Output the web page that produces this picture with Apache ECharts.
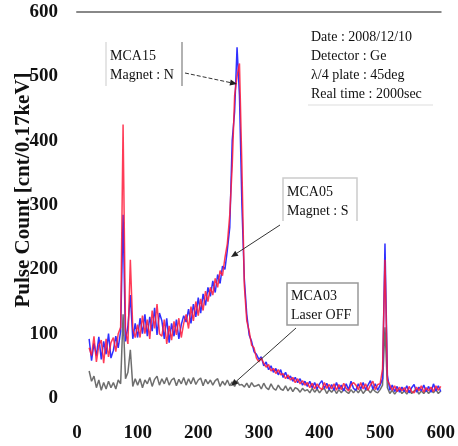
<!DOCTYPE html>
<html>
<head>
<meta charset="utf-8">
<script src="https://cdn.jsdelivr.net/npm/echarts@6/dist/echarts.min.js"></script>
<style>
html, body { margin: 0; padding: 0; background: #fff; }
#chart { width: 458px; height: 446px; }
</style>
</head>
<body>
<div id="chart"></div>
<script>
// energy channel (keV)
var energy = [
	20, 24, 28, 32, 36, 40, 44, 48, 52, 56,
	60, 64, 68, 72, 76, 80, 84, 88, 92, 96,
	100, 104, 108, 112, 116, 120, 124, 128, 132, 136,
	140, 144, 148, 152, 156, 160, 164, 168, 172, 176,
	180, 184, 188, 192, 196, 200, 204, 208, 212, 216,
	220, 224, 228, 232, 236, 240, 244, 248, 252, 256,
	260, 264, 268, 272, 276, 280, 284, 288, 292, 296,
	300, 304, 308, 312, 316, 320, 324, 328, 332, 336,
	340, 344, 348, 352, 356, 360, 364, 368, 372, 376,
	380, 384, 388, 392, 396, 400, 404, 408, 412, 416,
	420, 424, 428, 432, 436, 440, 444, 448, 452, 456,
	460, 464, 468, 472, 476, 480, 484, 488, 492, 496,
	500, 504, 508, 512, 516, 520, 524, 528, 532, 536,
	540, 544, 548, 552, 556, 560, 564, 568, 572, 576,
	580, 584, 588, 592, 596, 600
]

// MCA05 Magnet : S (blue)
var mca05 = [
	92, 58, 85, 66, 95, 60, 88, 68, 100, 62,
	74, 96, 78, 104, 285, 88, 112, 160, 92, 116,
	94, 124, 100, 130, 96, 126, 104, 140, 98, 132,
	120, 92, 124, 86, 116, 96, 122, 92, 114, 128,
	118, 138, 116, 146, 126, 156, 132, 162, 144, 172,
	158, 182, 164, 192, 178, 205, 200, 230, 265, 400,
	445, 545, 470, 300, 185, 130, 98, 88, 72, 68,
	60, 64, 50, 56, 44, 50, 40, 46, 36, 44,
	32, 40, 30, 34, 26, 32, 24, 30, 20, 26,
	18, 26, 16, 24, 14, 22, 27, 15, 23, 13,
	21, 12, 24, 14, 20, 11, 22, 13, 26, 15,
	12, 22, 14, 24, 13, 20, 27, 14, 22, 12,
	20, 30, 240, 35, 12, 20, 10, 18, 9, 17,
	10, 19, 8, 16, 21, 9, 17, 11, 20, 10,
	18, 9, 22, 11, 19, 10
]

// MCA15 Magnet : N (red)
var mca15 = [
	78, 66, 96, 56, 82, 90, 54, 92, 64, 86,
	94, 72, 100, 110, 425, 104, 84, 215, 108, 94,
	114, 94, 128, 100, 122, 92, 136, 108, 146, 100,
	96, 122, 84, 112, 90, 119, 98, 124, 94, 116,
	130, 108, 142, 120, 150, 128, 154, 136, 166, 150,
	172, 160, 186, 172, 198, 190, 218, 240, 285, 360,
	470, 500, 520, 360, 175, 120, 104, 82, 78, 62,
	56, 62, 54, 48, 52, 42, 46, 38, 44, 36,
	38, 30, 36, 28, 32, 24, 30, 22, 27, 20,
	24, 16, 23, 14, 22, 16, 13, 24, 15, 21,
	14, 22, 12, 21, 13, 23, 15, 11, 20, 24,
	20, 13, 24, 14, 22, 12, 20, 26, 13, 21,
	22, 45, 215, 28, 20, 12, 19, 10, 17, 11,
	16, 9, 18, 10, 8, 17, 11, 19, 9, 16,
	11, 17, 10, 19, 12, 18
]

// MCA03 Laser OFF (grey)
var mca03 = [
	42, 26, 34, 16, 28, 12, 24, 14, 26, 16,
	24, 14, 28, 22, 130, 30, 40, 75, 18, 30,
	20, 30, 16, 28, 22, 32, 18, 29, 34, 20,
	30, 22, 32, 20, 28, 31, 19, 29, 22, 32,
	20, 30, 22, 32, 21, 28, 31, 19, 29, 22,
	28, 20, 27, 30, 18, 26, 20, 28, 19, 25,
	18, 26, 20, 21, 17, 23, 16, 24, 18, 19,
	21, 14, 23, 16, 13, 22, 15, 12, 20, 14,
	12, 19, 11, 17, 10, 16, 14, 9, 15, 11,
	13, 8, 15, 9, 14, 8, 13, 15, 7, 13,
	9, 14, 7, 13, 8, 14, 10, 7, 13, 8,
	13, 8, 14, 7, 12, 13, 8, 14, 10, 8,
	13, 20, 110, 16, 7, 12, 6, 11, 13, 7,
	11, 6, 12, 7, 11, 13, 6, 11, 7, 12,
	7, 12, 8, 13, 7, 11
]

var infoLines = ['Date : 2008/12/10', 'Detector : Ge', '\u03bb/4 plate : 45deg', 'Real time : 2000sec']

function pairs(ys) {
	var out = []
	for (var i = 0; i < ys.length; i++) out.push([energy[i], ys[i]])
	return out
}

var serif = '"Liberation Serif", "DejaVu Serif", serif'

function label(x, y, txt) {
	return {
		type: 'text', x: x, y: y, z: 10,
		style: { text: txt, fontFamily: serif, fontSize: 14, fill: '#111', lineHeight: 19 }
	}
}

function arrow(x1, y1, x2, y2, dashed) {
	var a = Math.atan2(y2 - y1, x2 - x1)
	var L = 7, W = 3
	var bx = x2 - L * Math.cos(a), by = y2 - L * Math.sin(a)
	return [{
		type: 'line', z: 10,
		shape: { x1: x1, y1: y1, x2: bx, y2: by },
		style: { stroke: '#333', lineWidth: 1, lineDash: dashed ? [4, 2] : null }
	}, {
		type: 'polygon', z: 10,
		shape: { points: [[x2, y2], [bx - W * Math.sin(a), by + W * Math.cos(a)], [bx + W * Math.sin(a), by - W * Math.cos(a)]] },
		style: { fill: '#222' }
	}]
}

var g = []
g.push({
	type: 'text', x: 24, y: 190, rotation: Math.PI / 2,
	style: { text: 'Pulse Count [cnt/0.17keV]', fontFamily: serif, fontWeight: 'bold', fontSize: 21, fill: '#111', textAlign: 'center', textVerticalAlign: 'middle' }
})
// MCA15 box
g.push({ type: 'line', shape: { x1: 106, y1: 42, x2: 106, y2: 86 }, style: { stroke: '#ddd', lineWidth: 1.5 } })
g.push({ type: 'line', shape: { x1: 182, y1: 42, x2: 182, y2: 86 }, style: { stroke: '#999', lineWidth: 1.5 } })
g.push(label(110, 47, 'MCA15\nMagnet : N'))
// MCA05 box
g.push({ type: 'polyline', shape: { points: [[283, 221], [283, 178], [357, 178], [357, 221]] }, style: { stroke: '#ccc', lineWidth: 1.5, fill: null } })
g.push({ type: 'rect', z: 9, shape: { x: 284, y: 179, width: 72, height: 41 }, style: { fill: '#fff' } })
g.push(label(287, 183, 'MCA05\nMagnet : S'))
// MCA03 box
g.push({ type: 'rect', z: 9, shape: { x: 287, y: 283, width: 71, height: 42 }, style: { fill: '#fff', stroke: '#999', lineWidth: 1.5 } })
g.push(label(291, 287, 'MCA03\nLaser OFF'))
// info text
g.push({
	type: 'text', x: 311, y: 28, z: 10,
	style: { text: infoLines.join('\n'), fontFamily: serif, fontSize: 14, fill: '#111', lineHeight: 19 }
})
g.push({ type: 'line', shape: { x1: 308, y1: 105, x2: 433, y2: 105 }, style: { stroke: '#ddd', lineWidth: 1 } })
g = g.concat(arrow(185, 73, 237, 84, true))
g = g.concat(arrow(280, 225, 231, 257, false))
g = g.concat(arrow(296, 328, 231, 386, false))

var chart = echarts.init(document.getElementById('chart'))
var option = {
	animation: false,
	grid: { left: 77, right: 17, top: 12, bottom: 48 },
	xAxis: [{
		type: 'value', min: 0, max: 600, interval: 100,
		axisLine: { show: false }, axisTick: { show: false }, splitLine: { show: false },
		axisLabel: { margin: 26, fontFamily: serif, fontWeight: 'bold', fontSize: 19, color: '#111' }
	}, {
		type: 'value', min: 0, max: 600, position: 'top',
		axisLine: { show: true, lineStyle: { color: '#888', width: 2 } },
		axisTick: { show: false }, axisLabel: { show: false }, splitLine: { show: false }
	}],
	yAxis: {
		type: 'value', min: 0, max: 600, interval: 100,
		axisLine: { show: false }, axisTick: { show: false }, splitLine: { show: false },
		axisLabel: { margin: 19, fontFamily: serif, fontWeight: 'bold', fontSize: 19, color: '#111' }
	},
	series: [{
		name: 'MCA03', type: 'line', data: pairs(mca03), showSymbol: false,
		lineStyle: { color: '#555', width: 1.5, opacity: 0.85 }
	}, {
		name: 'MCA05', type: 'line', data: pairs(mca05), showSymbol: false,
		lineStyle: { color: '#3030ff', width: 1.5 }
	}, {
		name: 'MCA15', type: 'line', data: pairs(mca15), showSymbol: false,
		lineStyle: { color: '#ff1a3a', width: 1.5, opacity: 0.85 }
	}],
	graphic: g
}
chart.setOption(option)
</script>
</body>
</html>
